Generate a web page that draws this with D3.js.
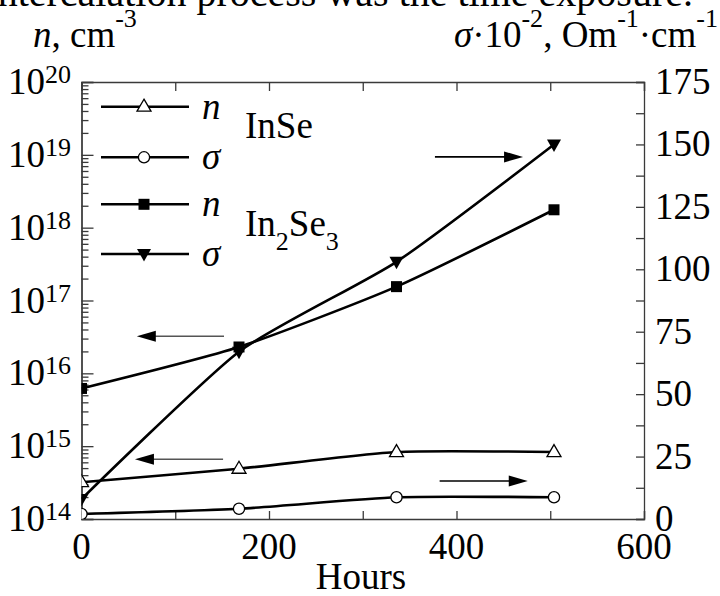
<!DOCTYPE html>
<html>
  <head>
    <meta charset="utf-8">
    <title>InSe / In2Se3 intercalation vs time</title>
    <script src="https://cdn.jsdelivr.net/npm/d3@7/dist/d3.min.js"></script>
    <style>
      body { margin: 0; background: #fff; }
      svg { font-family: "Liberation Serif", "Times New Roman", Times, serif; }
      .axis path, .axis line { stroke: #3a3a3a; stroke-width: 1.3; }
      .curve { fill: none; stroke: #000; stroke-width: 2.6; }
    </style>
  </head>
  <body>
    <svg id="chart" width="720" height="596"></svg>

    <script>
      // data
      hours = [0, 168, 336, 504];
      inseN = [3.2e14, 4.9e14, 8.3e14, 8.3e14];        // left axis, cm^-3
      inseSigma = [2, 4.1, 8.7, 8.7];                   // right axis
      in2se3N = [6.2e15, 2.3e16, 1.55e17, 1.76e18];     // left axis
      in2se3Sigma = [8, 67, 103, 150];                  // right axis

      xTicks = [0, 100, 200, 300, 400, 500, 600];
      xLabels = [0, 200, 400, 600];
      leftDecades = [14, 15, 16, 17, 18, 19, 20];
      rightLabels = [0, 25, 50, 75, 100, 125, 150, 175];

      // arrows point at the axis each pair belongs to (hours, value, side)
      arrows = [
        { from: 377, to: 471, value: 145, axis: "right" },
        { from: 152, to: 59, value: Math.pow(10, 16.51), axis: "left" },
        { from: 151, to: 57, value: Math.pow(10, 14.82), axis: "left" },
        { from: 382, to: 476, value: 15.2, axis: "right" }
      ];

      // page elements
      svg = d3.select("#chart");
      margin = { top: 82, right: 76, bottom: 77, left: 81.5 };
      width = 720 - margin.left - margin.right;
      height = 596 - margin.top - margin.bottom;

      x = d3.scaleLinear().domain([0, 600]).range([margin.left, margin.left + width]);
      yL = d3.scaleLog().domain([1e14, 1e20]).range([margin.top + height, margin.top]);
      yR = d3.scaleLinear().domain([0, 175]).range([margin.top + height, margin.top]);

      // top cut-off caption line
      svg.append("text")
        .attr("x", 693).attr("y", 6)
        .attr("text-anchor", "end")
        .attr("font-size", 40)
        .text("intercalation process was the time exposure.");

      // axes
      minorLog = [];
      leftDecades.slice(0, -1).forEach(function(e) {
        for (k = 2; k < 10; k++) minorLog.push(k * Math.pow(10, e));
      });
      majorLog = leftDecades.map(function(e) { return Math.pow(10, e); });

      svg.append("g").attr("class", "axis")
        .attr("transform", "translate(" + margin.left + ",0)")
        .call(d3.axisRight(yL).tickValues(majorLog).tickSize(12).tickFormat(""));
      svg.append("g").attr("class", "axis")
        .attr("transform", "translate(" + margin.left + ",0)")
        .call(d3.axisRight(yL).tickValues(minorLog).tickSize(7).tickFormat("").tickSizeOuter(0));

      svg.append("g").attr("class", "axis")
        .attr("transform", "translate(" + (margin.left + width) + ",0)")
        .call(d3.axisLeft(yR).tickValues(d3.range(0, 175.1, 12.5)).tickSize(8).tickFormat(""));

      svg.append("g").attr("class", "axis")
        .attr("transform", "translate(0," + (margin.top + height) + ")")
        .call(d3.axisTop(x).tickValues(xTicks).tickSize(8).tickFormat(""));
      svg.append("g").attr("class", "axis")
        .attr("transform", "translate(0," + margin.top + ")")
        .call(d3.axisBottom(x).tickValues(xTicks).tickSize(9).tickFormat(""));
      svg.selectAll(".axis text").remove();

      // tick labels
      svg.selectAll(".xLabel")
        .data(xLabels)
        .enter().append("text")
          .attr("x", function(d) { return x(d); })
          .attr("y", margin.top + height + 40)
          .attr("text-anchor", "middle")
          .attr("font-size", 37)
          .text(function(d) { return d; });

      leftLabel = svg.selectAll(".leftLabel")
        .data(leftDecades)
        .enter().append("text")
          .attr("x", 71)
          .attr("y", function(d) { return yL(Math.pow(10, d)) + 12; })
          .attr("text-anchor", "end")
          .attr("font-size", 37);
      leftLabel.append("tspan").text("10");
      leftLabel.append("tspan").attr("font-size", 26).attr("dy", -11).text(function(d) { return d; });

      svg.selectAll(".rightLabel")
        .data(rightLabels)
        .enter().append("text")
          .attr("x", 655)
          .attr("y", function(d) { return yR(d) + 12; })
          .attr("font-size", 37)
          .text(function(d) { return d; });

      // axis titles
      svg.append("text")
        .attr("x", 361).attr("y", 589)
        .attr("text-anchor", "middle")
        .attr("font-size", 37)
        .text("Hours");

      nTitle = svg.append("text").attr("x", 33).attr("y", 47).attr("font-size", 37);
      nTitle.append("tspan").attr("font-style", "italic").text("n");
      nTitle.append("tspan").text(", cm");
      nTitle.append("tspan").attr("font-size", 26).attr("dy", -20).text("-3");

      sTitle = svg.append("text").attr("x", 718).attr("y", 47).attr("text-anchor", "end").attr("font-size", 37);
      sTitle.append("tspan").attr("font-style", "italic").text("σ");
      sTitle.append("tspan").text("·10");
      sTitle.append("tspan").attr("font-size", 26).attr("dy", -20).text("-2");
      sTitle.append("tspan").attr("dy", 20).text(", Om");
      sTitle.append("tspan").attr("font-size", 26).attr("dy", -20).text("-1");
      sTitle.append("tspan").attr("dy", 20).text("·cm");
      sTitle.append("tspan").attr("font-size", 26).attr("dy", -20).text("-1");

      // markers
      function marker(sel, kind) {
        if (kind == "circle") {
          sel.append("circle").attr("r", 5.6).attr("fill", "#fff").attr("stroke", "#000").attr("stroke-width", 1.3);
        } else if (kind == "square") {
          sel.append("rect").attr("x", -5.5).attr("y", -5.5).attr("width", 11).attr("height", 11).attr("fill", "#000");
        } else if (kind == "up") {
          sel.append("path").attr("d", "M0,-7.5L7,4.5L-7,4.5Z").attr("fill", "#fff").attr("stroke", "#000").attr("stroke-width", 1.3);
        } else {
          sel.append("path").attr("d", "M-7,-5L7,-5L0,7.5Z").attr("fill", "#000");
        }
      }

      series = [
        { values: inseN, y: yL, kind: "up" },
        { values: inseSigma, y: yR, kind: "circle" },
        { values: in2se3N, y: yL, kind: "square" },
        { values: in2se3Sigma, y: yR, kind: "down" }
      ];

      svg.append("clipPath").attr("id", "plotClip")
        .append("rect")
          .attr("x", margin.left).attr("y", margin.top)
          .attr("width", width).attr("height", height);

      plot = svg.append("g").attr("clip-path", "url(#plotClip)");

      series.forEach(function(s) {
        pts = hours.map(function(h, i) { return [x(h), s.y(s.values[i])]; });
        plot.append("path")
          .attr("class", "curve")
          .attr("d", d3.line().curve(d3.curveCardinal.tension(0.4))(pts));
      });
      series.forEach(function(s) {
        hours.forEach(function(h, i) {
          g = plot.append("g").attr("transform", "translate(" + x(h) + "," + s.y(s.values[i]) + ")");
          marker(g, s.kind);
        });
      });

      // arrows
      arrows.forEach(function(a) {
        yy = a.axis == "left" ? yL(a.value) : yR(a.value);
        x0 = x(a.from);
        x1 = x(a.to);
        dir = x1 > x0 ? 1 : -1;
        svg.append("line")
          .attr("x1", x0).attr("x2", x1 - dir * 12)
          .attr("y1", yy).attr("y2", yy)
          .attr("stroke", a.axis == "left" ? "#555" : "#000")
          .attr("stroke-width", 1.6);
        svg.append("path")
          .attr("d", "M" + x1 + "," + yy + "L" + (x1 - dir * 19) + "," + (yy - 5.5) + "L" + (x1 - dir * 19) + "," + (yy + 5.5) + "Z")
          .attr("fill", "#000");
      });

      // legend
      legendRows = [106.7, 157.3, 204.3, 254];
      legendLabels = ["n", "σ", "n", "σ"];
      series.forEach(function(s, i) {
        ly = legendRows[i];
        svg.append("line")
          .attr("x1", 101).attr("x2", 189)
          .attr("y1", ly).attr("y2", ly)
          .attr("stroke", "#000").attr("stroke-width", 2.6);
        marker(svg.append("g").attr("transform", "translate(144," + ly + ")"), s.kind);
        svg.append("text")
          .attr("x", 202).attr("y", ly + 12)
          .attr("font-size", 37).attr("font-style", "italic")
          .text(legendLabels[i]);
      });

      svg.append("text").attr("x", 245).attr("y", 138).attr("font-size", 37).text("InSe");
      comp = svg.append("text").attr("x", 245).attr("y", 236).attr("font-size", 37);
      comp.append("tspan").text("In");
      comp.append("tspan").attr("font-size", 26).attr("dy", 14).text("2");
      comp.append("tspan").attr("dy", -14).text("Se");
      comp.append("tspan").attr("font-size", 26).attr("dy", 14).text("3");
    </script>
  </body>
</html>
